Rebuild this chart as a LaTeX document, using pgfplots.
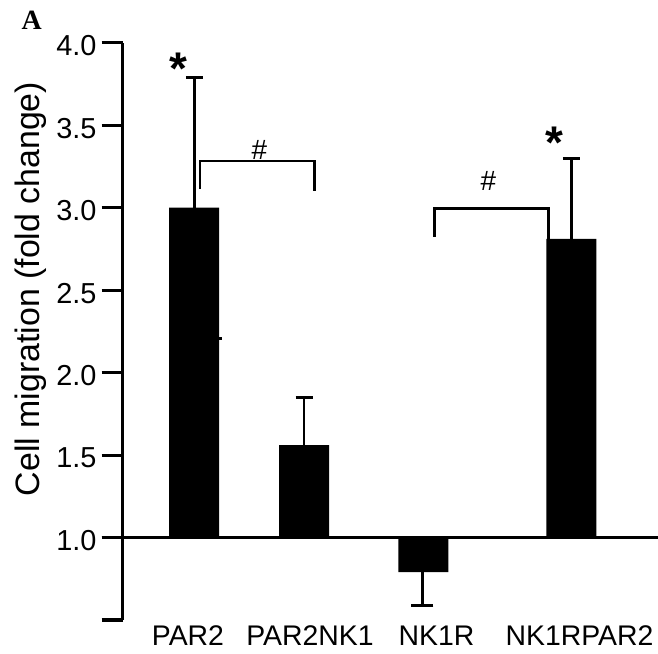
\documentclass[border=0pt]{standalone}
\usepackage{pgfplots}
\pgfplotsset{compat=1.18}
\usepackage{fontspec}
\setmainfont{Liberation Sans}
\newfontfamily\serifA{Liberation Serif}
\begin{document}
\begin{tikzpicture}
\path[use as bounding box] (0,0) rectangle (658bp,654bp);
\begin{axis}[
  at={(122.7bp,34bp)}, anchor=south west,
  x=1bp, y=164.94bp,
  xmin=122.7, xmax=658, ymin=0.5, ymax=4.0,
  y coord trafo/.code={\pgfmathparse{#1-1}},
  y coord inv trafo/.code={\pgfmathparse{#1+1}},
  axis y line=left, axis x line=bottom,
  x axis line style={draw=none},
  y axis line style={-, line width=3bp, black},
  clip=false,
  tick align=outside,
  major tick length=21bp,
  ytick={0.5,1.0,1.5,2.0,2.5,3.0,3.5,4.0},
  yticklabels={,1.0,1.5,2.0,2.5,3.0,3.5,4.0},
  ytick style={line width=3bp, black},
  xtick={188,310,436.5,579.5},
  xticklabels={PAR2,PAR2NK1,NK1R,NK1RPAR2},
  xtick style={draw=none},
  /pgf/number format/assume math mode=true,
  yticklabel style={font=\fontsize{29}{34}\selectfont, anchor=east, inner sep=0pt, xshift=-5bp, yshift=-3bp},
  xticklabel style={font=\fontsize{28.5}{32}\selectfont, anchor=base, inner sep=0pt, yshift=-4.5bp},
]
% baseline at 1.0
\addplot[black, line width=2.8bp, mark=none] coordinates {(101.7,1.0) (658,1.0)};
% bars
\addplot[ybar, bar width=50, bar shift=0pt, fill=black, draw=none] coordinates {
  (194,3.0) (304,1.56) (423.3,0.79) (571.3,2.81)};
% error bars (upward)
\addplot[draw=none, mark=none, error bars/.cd, y dir=plus, y explicit,
  error bar style={draw=black, line width=2.8bp},
  error mark options={draw=black, rotate=90, line width=3.2bp, mark size=8.5bp}]
  coordinates {(194.3,3.0) +- (0,0.79) (304,1.56) +- (0,0.29) (571.3,2.81) +- (0,0.49)};
% error bar (downward)
\addplot[draw=none, mark=none, error bars/.cd, y dir=minus, y explicit,
  error bar style={draw=black, line width=2.8bp},
  error mark options={draw=black, rotate=90, line width=3.2bp, mark size=11bp}]
  coordinates {(422.3,0.79) +- (0,0.2)};
% brackets
\addplot[black, line width=2.7bp, mark=none, line join=miter] coordinates {
  (200,3.112) (200,3.283) (314.3,3.283) (314.3,3.10)};
\addplot[black, line width=2.7bp, mark=none, line join=miter] coordinates {
  (434.7,2.824) (434.7,2.996) (548.7,2.996) (548.7,2.81)};
\addplot[black, line width=2.5bp, mark=none] coordinates {(218.5,2.206) (222,2.206)};
% annotations
\node[anchor=north, inner sep=0pt, font=\fontsize{46}{48}\selectfont\bfseries] at (axis cs:178,3.94) {*};
\node[anchor=north, inner sep=0pt, font=\fontsize{46}{48}\selectfont\bfseries] at (axis cs:554.7,3.49) {*};
\node[anchor=base, inner sep=0pt, font=\fontsize{28}{32}\selectfont] at (axis cs:259.5,3.29) {\#};
\node[anchor=base, inner sep=0pt, font=\fontsize{28}{32}\selectfont] at (axis cs:488.5,3.103) {\#};
\end{axis}
\node[rotate=90, anchor=base, inner sep=0pt, font=\fontsize{34}{40}\selectfont] at (39.3bp,365bp) {Cell migration (fold change)};
\node[anchor=base west, inner sep=0pt, font=\fontsize{28}{30}\selectfont\serifA\bfseries] at (21.5bp,624bp) {A};
\end{tikzpicture}
\end{document}
